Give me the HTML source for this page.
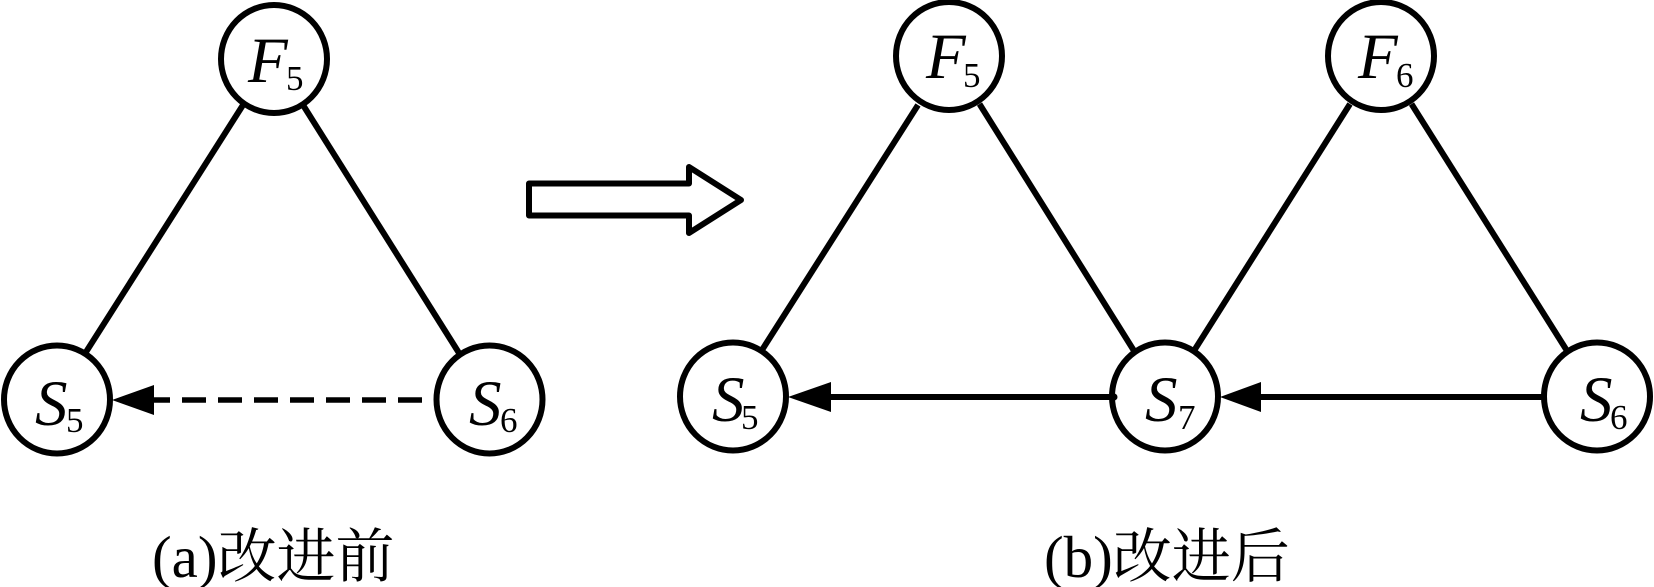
<!DOCTYPE html>
<html>
<head>
<meta charset="utf-8">
<style>
html,body{margin:0;padding:0;background:#fff;width:1654px;height:587px;overflow:hidden}
svg{display:block}
.m{font-family:"Liberation Serif",serif;font-style:italic;font-size:65px;fill:#000}
.s{font-family:"Liberation Serif",serif;font-size:35px;fill:#000}
.l{font-family:"Liberation Serif","Noto Serif CJK SC",serif;font-size:59px;fill:#000}
</style>
</head>
<body>
<svg width="1654" height="587" viewBox="0 0 1654 587" xmlns="http://www.w3.org/2000/svg">
<g stroke="#000" stroke-width="6" fill="none">
<line x1="243" y1="105" x2="86" y2="352"/>
<line x1="303" y1="105" x2="459" y2="353"/>
<line x1="154" y1="400" x2="422" y2="400" stroke-dasharray="24 12" transform="rotate(180 288 400)" stroke-width="5.5"/>
<line x1="918" y1="105" x2="762" y2="350"/>
<line x1="979.5" y1="104" x2="1133.5" y2="350"/>
<line x1="1350" y1="104" x2="1194.5" y2="350"/>
<line x1="1411.5" y1="104" x2="1566.5" y2="350"/>
<line x1="830" y1="397" x2="1114" y2="397"/>
<line x1="1260" y1="397" x2="1542" y2="397"/>
</g>
<g fill="#000">
<polygon points="112,400 154,385 154,415"/>
<polygon points="788,397 831,382 831,412"/>
<polygon points="1220,397 1261,382 1261,412"/>
</g>
<polygon points="529,183.5 689,183.5 689,167 741,200 689,233 689,215.5 529,215.5" fill="#fff" stroke="#000" stroke-width="6" stroke-linejoin="round"/>
<g fill="#fff" stroke="#000" stroke-width="6">
<ellipse cx="274" cy="59" rx="53" ry="54"/>
<ellipse cx="57" cy="399.5" rx="53" ry="54"/>
<ellipse cx="489.5" cy="399.5" rx="53" ry="54"/>
<ellipse cx="949" cy="56" rx="53" ry="54"/>
<ellipse cx="1381" cy="56" rx="53" ry="54"/>
<ellipse cx="733" cy="396.5" rx="53" ry="54"/>
<ellipse cx="1165" cy="396.5" rx="53" ry="54"/>
<ellipse cx="1597" cy="396.5" rx="53" ry="54"/>
</g>
<circle cx="1114" cy="397" r="3.5" fill="#000"/>
<text class="m" x="248" y="82">F</text><text class="s" x="286" y="90">5</text>
<text class="m" x="35" y="425">S</text><text class="s" x="66" y="432">5</text>
<text class="m" x="469" y="425">S</text><text class="s" x="500" y="432">6</text>
<text class="m" x="926" y="78">F</text><text class="s" x="963" y="87">5</text>
<text class="m" x="1358" y="78">F</text><text class="s" x="1396" y="87">6</text>
<text class="m" x="712" y="421">S</text><text class="s" x="741" y="429">5</text>
<text class="m" x="1145" y="421">S</text><text class="s" x="1178" y="429">7</text>
<text class="m" x="1580" y="421">S</text><text class="s" x="1610" y="429">6</text>
<text class="l" x="152" y="577">(a)改进前</text>
<text class="l" x="1044" y="577">(b)改进后</text>
</svg>
</body>
</html>
